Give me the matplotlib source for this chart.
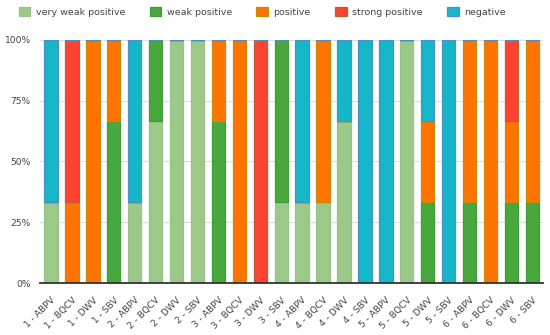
import numpy as np
import matplotlib
matplotlib.use("Agg")
import matplotlib.pyplot as plt

# sample labels (site - virus)
labels = ["1 - ABPV", "1 - BQCV", "1 - DWV", "1 - SBV",
          "2 - ABPV", "2 - BQCV", "2 - DWV", "2 - SBV",
          "3 - ABPV", "3 - BQCV", "3 - DWV", "3 - SBV",
          "4 - ABPV", "4 - BQCV", "4 - DWV", "4 - SBV",
          "5 - ABPV", "5 - BQCV", "5 - DWV", "5 - SBV",
          "6 - ABPV", "6 - BQCV", "6 - DWV", "6 - SBV"]

# share of samples per category (%)
very_weak = [33.33, 0, 0, 0, 33.33, 66.67, 100, 100, 0, 0, 0, 33.33,
             33.33, 33.33, 66.67, 0, 0, 100, 0, 0, 0, 0, 0, 0]
weak = [0, 0, 0, 66.67, 0, 33.33, 0, 0, 66.67, 0, 0, 66.67,
        0, 0, 0, 0, 0, 0, 33.33, 0, 33.33, 0, 33.33, 33.33]
positive = [0, 33.33, 100, 33.33, 0, 0, 0, 0, 33.33, 100, 0, 0,
            0, 66.67, 0, 0, 0, 0, 33.34, 0, 66.67, 100, 33.34, 66.67]
strong = [0, 66.67, 0, 0, 0, 0, 0, 0, 0, 0, 100, 0,
          0, 0, 0, 0, 0, 0, 0, 0, 0, 0, 33.33, 0]
negative = [66.67, 0, 0, 0, 66.67, 0, 0, 0, 0, 0, 0, 0,
            66.67, 0, 33.33, 100, 100, 0, 33.33, 100, 0, 0, 0, 0]

series = [("very weak positive", very_weak, "#9cc98a", "#94c486"),
          ("weak positive", weak, "#48a83c", "#3f9a3a"),
          ("positive", positive, "#ff7400", "#c98a08"),
          ("strong positive", strong, "#ff4330", "#b85c3c"),
          ("negative", negative, "#16b6c9", "#4a90c8")]

fig = plt.figure(figsize=(5.5, 3.35), dpi=100)
ax = fig.add_axes([0.0736, 0.155, 0.9134, 0.726])

x = np.arange(len(labels))
bottom = np.zeros(len(labels))
handles = []
for name, vals, fc, ec in series:
    v = np.array(vals) / 100.0
    b = ax.bar(x, v, 0.64, bottom=bottom, color=fc, edgecolor=ec,
               linewidth=0.9, label=name, zorder=2)
    handles.append(b)
    bottom += v

ax.set_xlim(-0.5, len(labels) - 0.5)
ax.set_ylim(0, 1)
ax.set_yticks([0, 0.25, 0.5, 0.75, 1.0])
ax.set_yticklabels(["0%", "25%", "50%", "75%", "100%"])
ax.set_xticks(x)
ax.set_xticklabels(labels, rotation=45, ha="right", rotation_mode="anchor")
ax.tick_params(axis="both", length=0, labelsize=6.6, labelcolor="#444444")
ax.tick_params(axis="y", pad=7)
ax.tick_params(axis="x", pad=9)
ax.grid(axis="y", color="#dddddd", linewidth=0.8, zorder=0)
for s in ["top", "right", "left"]:
    ax.spines[s].set_visible(False)
ax.spines["bottom"].set_color("#333333")
ax.spines["bottom"].set_linewidth(1.3)
ax.spines["bottom"].set_zorder(3)

leg = fig.legend(handles=handles, loc="upper left", bbox_to_anchor=(0.034, 0.98),
                 ncol=5, frameon=False, fontsize=6.8, handlelength=1.2,
                 handleheight=1.2, handletextpad=0.6, columnspacing=2.6,
                 borderpad=0, borderaxespad=0)
for t in leg.get_texts():
    t.set_color("#444444")

fig.savefig("out.png", dpi=100)
